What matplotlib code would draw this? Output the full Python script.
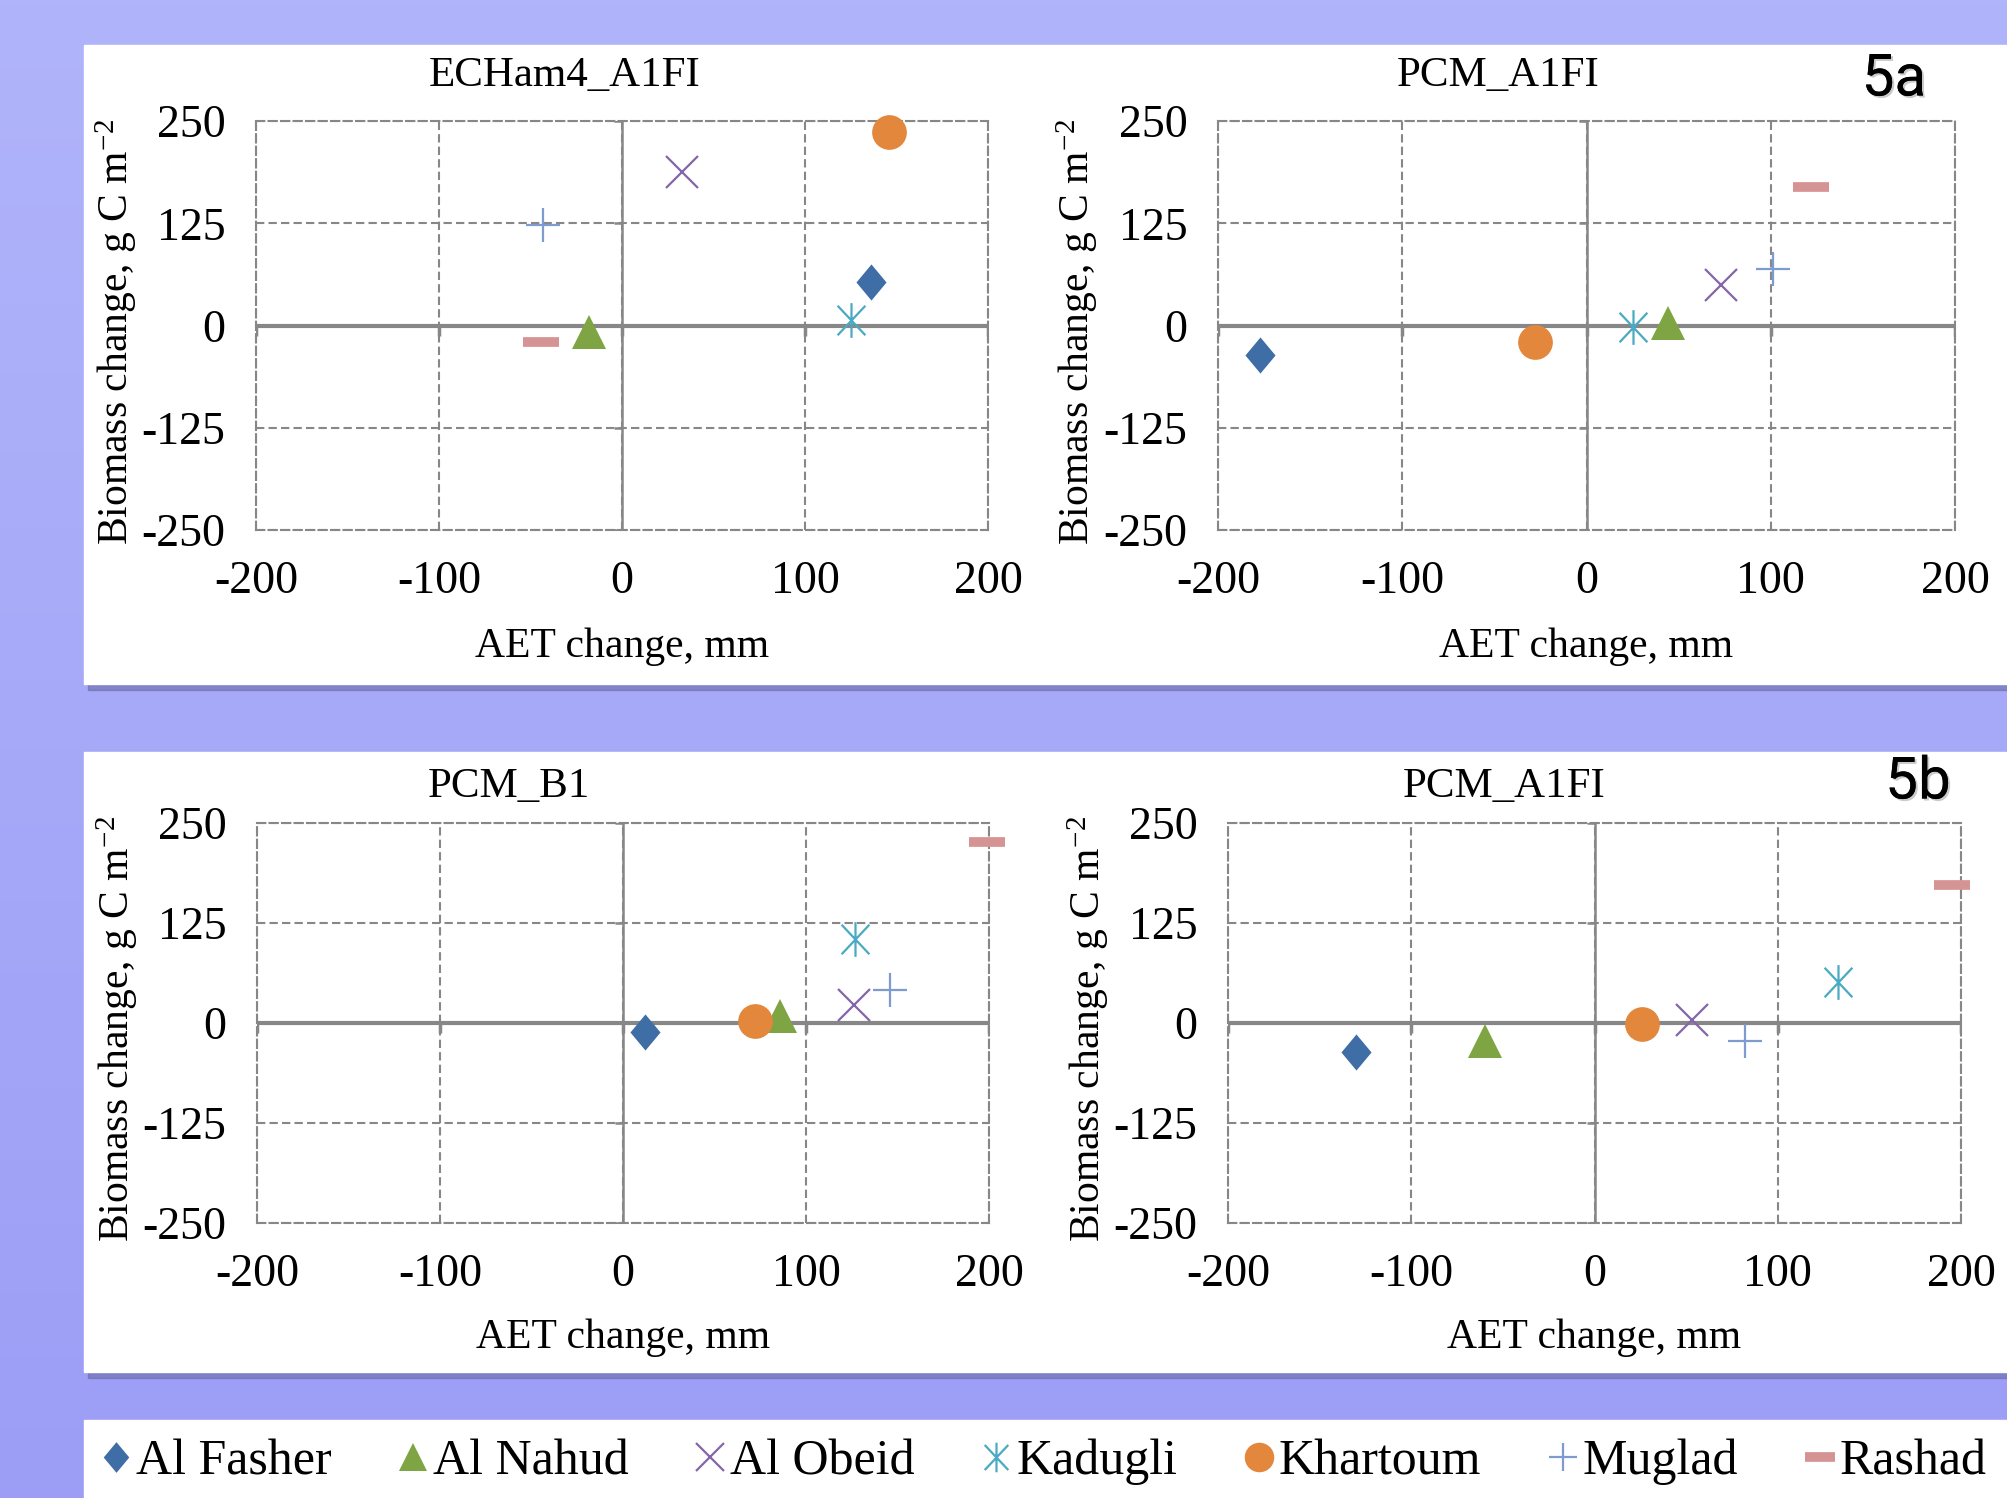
import numpy as np
import matplotlib
matplotlib.use('Agg')
import matplotlib.pyplot as plt
from matplotlib.path import Path
from matplotlib.lines import Line2D
from matplotlib.patches import Rectangle
from matplotlib.colors import LinearSegmentedColormap
import matplotlib.patheffects as pe

plt.rcParams['font.family'] = ['Liberation Serif', 'DejaVu Serif']
plt.rcParams['axes.unicode_minus'] = False
plt.rcParams['mathtext.fontset'] = 'custom'
plt.rcParams['mathtext.rm'] = 'Liberation Serif'
plt.rcParams['mathtext.default'] = 'rm'

# --- data ---
stations = ['Al Fasher', 'Al Nahud', 'Al Obeid', 'Kadugli', 'Khartoum', 'Muglad', 'Rashad']

titles = ['ECHam4_A1FI', 'PCM_A1FI', 'PCM_B1', 'PCM_A1FI']

echam_a1fi_aet = [136, -18, 33, 125, 146, -43, -44]
echam_a1fi_bio = [53, -8, 188, 7, 237, 123, -20]

pcm_a1fi_5a_aet = [-177, 44, 73, 25, -28, 101, 122]
pcm_a1fi_5a_bio = [-36, 3, 49, -2, -20, 69, 169]

pcm_b1_aet = [12, 86, 126, 127, 72, 146, 199]
pcm_b1_bio = [-11, 9, 23, 105, 3, 41, 226]

pcm_a1fi_5b_aet = [-130, -60, 53, 133, 26, 82, 195]
pcm_a1fi_5b_bio = [-36, -23, 4, 51, -1, -22, 173]

xticks = [-200, -100, 0, 100, 200]
yticks = [-250, -125, 0, 125, 250]

panel_x = [echam_a1fi_aet, pcm_a1fi_5a_aet, pcm_b1_aet, pcm_a1fi_5b_aet]
panel_y = [echam_a1fi_bio, pcm_a1fi_5a_bio, pcm_b1_bio, pcm_a1fi_5b_bio]

# --- marker styles ---
diamond = [(0, 1.2), (1.0, 0), (0, -1.2), (-1.0, 0), (0, 1.2)]
star = Path([(0, -1), (0, 1), (-0.8, -0.85), (0.8, 0.85), (-0.8, 0.85), (0.8, -0.85)],
            [Path.MOVETO, Path.LINETO, Path.MOVETO, Path.LINETO, Path.MOVETO, Path.LINETO])

styles = [
    dict(marker=diamond, color='#3F6EA6', ms=26, mew=0),
    dict(marker='^', color='#7FA443', ms=24, mew=0),
    dict(marker='x', color='#8566A8', ms=23, mew=1.6, mfc='none'),
    dict(marker=star, color='#4AAAC2', ms=25, mew=1.6, mfc='none'),
    dict(marker='o', color='#E2873C', ms=25, mew=0),
    dict(marker='+', color='#7E9BCF', ms=24, mew=1.6),
    dict(marker='_', color='#D59393', ms=26, mew=7),
]

W, H = 2007, 1498


def fx(px):
    return px / W


def fy(py):
    return 1 - py / H


fig = plt.figure(figsize=(W / 100, H / 100), dpi=100)

# background gradient
bg = fig.add_axes([0, 0, 1, 1], zorder=-10)
cmap = LinearSegmentedColormap.from_list('bg', ['#9C9EF6', '#B0B4FA'])
bg.imshow(np.linspace(0, 1, 256).reshape(-1, 1)[::-1], aspect='auto', cmap=cmap,
          extent=[0, 1, 0, 1])
bg.axis('off')

# white boxes with shadow
boxes = [(84, 45, 2007, 684), (84, 752, 2007, 1372), (84, 1420, 2007, 1510)]
for l, t, r, b in boxes:
    fig.patches.append(Rectangle((fx(l) + 0.002, fy(b) - 0.004), fx(r) - fx(l), (b - t) / H,
                                 transform=fig.transFigure, color='#6A6BA8', alpha=0.6, zorder=-6))
    fig.patches.append(Rectangle((fx(l), fy(b)), fx(r) - fx(l), (b - t) / H,
                                 transform=fig.transFigure, color='white', zorder=-5))

# axes positions in pixels: left, top, right, bottom
axes_px = [(256, 121, 988, 530), (1218, 121, 1955, 530),
           (257, 823, 989, 1223), (1228, 823, 1961, 1223)]
title_px = [(565, 76), (1498, 76), (509, 787), (1504, 787)]

grid_c = '#878787'
for i, (l, t, r, b) in enumerate(axes_px):
    ax = fig.add_axes([fx(l), fy(b), fx(r) - fx(l), (b - t) / H])
    ax.set_xlim(-200, 200)
    ax.set_ylim(-250, 250)
    ax.set_xticks(xticks)
    ax.set_yticks(yticks)
    ax.set_xticklabels([str(v) for v in xticks])
    ax.set_yticklabels([str(v) for v in yticks])
    ax.tick_params(length=0, labelsize=33, pad=22)
    ax.grid(True, ls=(0, (4, 2)), color=grid_c, lw=1.5)
    for s in ax.spines.values():
        s.set_linestyle((0, (4, 2)))
        s.set_color(grid_c)
        s.set_linewidth(1.5)
    ax.axhline(0, color=grid_c, lw=3, zorder=2)
    ax.axvline(0, color=grid_c, lw=1.8, zorder=2)
    ax.plot(xticks, [0] * len(xticks), ls='none', marker=3, ms=7, mew=2.5, color=grid_c, zorder=2)
    ax.plot([0] * len(yticks), yticks, ls='none', marker=0, ms=6, mew=1.8, color=grid_c, zorder=2)

    for j in range(len(stations)):
        ax.plot(panel_x[i][j], panel_y[i][j], ls='none', clip_on=False, zorder=5, **styles[j])

    ax.set_xlabel('AET change, mm', fontsize=30)
    ax.xaxis.set_label_coords(0.5, -0.286)
    ax.xaxis.label.set_va('center')
    ax.set_ylabel(r'Biomass change, g C m$^{-2}$', fontsize=30)
    ax.yaxis.set_label_coords(-0.191, 0.485)
    ax.yaxis.label.set_va('center')

    fig.text(fx(title_px[i][0]), fy(title_px[i][1]), titles[i], ha='center', va='center', fontsize=31)

shadow = [pe.withSimplePatchShadow(offset=(1.5, -1.5), shadow_rgbFace='#555555', alpha=0.3), pe.Normal()]
fig.text(fx(1894), fy(80), '5a', ha='center', va='center', fontsize=42,
         family=['Roboto', 'DejaVu Sans'], path_effects=shadow)
fig.text(fx(1918), fy(783), '5b', ha='center', va='center', fontsize=42,
         family=['Roboto', 'DejaVu Sans'], path_effects=shadow)

# legend
handles = []
for st in styles:
    kw = dict(st)
    kw['ms'] = kw['ms'] * 0.85
    handles.append(Line2D([], [], ls='none', **kw))
fig.legend(handles, stations, loc='center', bbox_to_anchor=(0.52, 0.024), ncol=7,
           frameon=False, prop=dict(family='Liberation Serif', size=36),
           handlelength=0.6, handletextpad=0.1, columnspacing=1.33)

fig.savefig('out.png', dpi=100)
